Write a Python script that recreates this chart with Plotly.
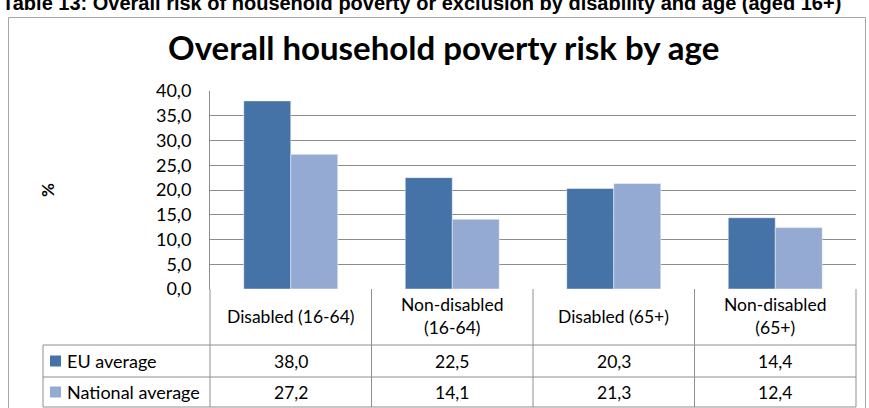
import plotly.graph_objects as go

# ---- data -------------------------------------------------------------
categories = ["Disabled (16-64)", "Non-disabled (16-64)", "Disabled (65+)", "Non-disabled (65+)"]
header_labels = ["Disabled (16-64)", "Non-disabled<br>(16-64)", "Disabled (65+)", "Non-disabled<br>(65+)"]
series_names = ["EU average", "National average"]
eu_average = [38.0, 22.5, 20.3, 14.4]
national_average = [27.2, 14.1, 21.3, 12.4]
y_ticks = [0, 5, 10, 15, 20, 25, 30, 35, 40]

caption = "Table 13: Overall risk of household poverty or exclusion by disability and age (aged 16+)"
title = "Overall household poverty risk by age"

# ---- styling ----------------------------------------------------------
W_PX, H_PX = 869, 408
PLOT_L, PLOT_R, PLOT_T, PLOT_B = 210, 856, 91, 289
FONT = "Lato"
TXT = 17.5
EU_COLOR = "#4572A7"
NAT_COLOR = "#95AAD3"
GRID = "#8C8C8C"
BORDER = "#8E8E8E"


def px(x):
    """pixel column -> paper x"""
    return (x - PLOT_L) / (PLOT_R - PLOT_L)


def py(y):
    """pixel row -> paper y"""
    return (PLOT_B - y) / (PLOT_B - PLOT_T)


def fmt(v):
    return f"{v:.1f}".replace(".", ",")


series_values = [eu_average, national_average]
series_colors = [EU_COLOR, NAT_COLOR]

fig = go.Figure()
for name, vals, col in zip(series_names, series_values, series_colors):
    fig.add_trace(go.Bar(
        x=categories, y=vals, name=name,
        marker=dict(color=col, line=dict(color="rgba(255,255,255,0.45)", width=1)),
        showlegend=False,
    ))

shapes = []
annotations = []

# outer chart frame
shapes.append(dict(type="rect", xref="paper", yref="paper",
                   x0=px(8.5), x1=px(865.5), y0=py(430), y1=py(17.5),
                   line=dict(color="#A6A6A6", width=1), layer="below"))

# data table grid
row_lines = [345, 377, 407]
col_lines = [PLOT_L, 371.5, 533, 694.5, PLOT_R]
legend_left = 43
for yl in row_lines:
    shapes.append(dict(type="line", xref="paper", yref="paper",
                       x0=px(legend_left), x1=px(PLOT_R), y0=py(yl), y1=py(yl),
                       line=dict(color=BORDER, width=1)))
for xl in col_lines:
    shapes.append(dict(type="line", xref="paper", yref="paper",
                       x0=px(xl), x1=px(xl), y0=py(PLOT_B), y1=py(407),
                       line=dict(color=BORDER, width=1)))
shapes.append(dict(type="line", xref="paper", yref="paper",
                   x0=px(legend_left), x1=px(legend_left), y0=py(345), y1=py(407),
                   line=dict(color=BORDER, width=1)))

# header cells
for cat, lab in zip(categories, header_labels):
    annotations.append(dict(x=cat, xref="x", y=py(316), yref="paper",
                            text=lab, showarrow=False, yanchor="middle",
                            font=dict(family=FONT, size=TXT, color="#000000")))

# value rows with legend keys
row_centers = [361, 392]
for name, vals, col, yc in zip(series_names, series_values, series_colors, row_centers):
    for cat, v in zip(categories, vals):
        annotations.append(dict(x=cat, xref="x", y=py(yc), yref="paper",
                                text=fmt(v), showarrow=False, yanchor="middle",
                                font=dict(family=FONT, size=TXT, color="#000000")))
    shapes.append(dict(type="rect", xref="paper", yref="paper",
                       x0=px(50), x1=px(61), y0=py(yc + 5.5), y1=py(yc - 5.5),
                       fillcolor=col, line=dict(width=0)))
    annotations.append(dict(x=px(65), xref="paper", y=py(yc), yref="paper",
                            text=name, showarrow=False, xanchor="left", yanchor="middle",
                            font=dict(family=FONT, size=TXT + 0.5, color="#000000")))

# chart title, axis title, caption
annotations.append(dict(x=px(443), xref="paper", y=py(47), yref="paper",
                        text=f"<b>{title}</b>", showarrow=False,
                        xanchor="center", yanchor="middle",
                        font=dict(family=FONT, size=33, color="#000000")))
annotations.append(dict(x=px(47), xref="paper", y=py(190), yref="paper",
                        text="<b>%</b>", showarrow=False, textangle=-90,
                        xanchor="center", yanchor="middle",
                        font=dict(family=FONT, size=17, color="#000000")))
annotations.append(dict(x=px(0), xref="paper", y=py(3), yref="paper",
                        text=f"<b>{caption}</b>", showarrow=False,
                        xanchor="left", yanchor="middle",
                        font=dict(family="Liberation Sans", size=20, color="#000000")))

fig.update_layout(
    width=W_PX, height=H_PX,
    margin=dict(l=PLOT_L, r=W_PX - PLOT_R, t=PLOT_T, b=H_PX - PLOT_B, pad=0),
    paper_bgcolor="white", plot_bgcolor="white",
    barmode="group", bargap=0.418, bargroupgap=0,
    separators=",.",
    shapes=shapes, annotations=annotations,
    xaxis=dict(range=[-0.5, 3.5], showticklabels=False, ticks="",
               showgrid=False, zeroline=False, showline=False, fixedrange=True),
    yaxis=dict(range=[0, 40], tickvals=y_ticks, tickformat=".1f",
               showgrid=True, gridcolor=GRID, gridwidth=1,
               zeroline=False, showline=True, linecolor=GRID, linewidth=1,
               ticks="", ticklabelstandoff=14,
               tickfont=dict(family=FONT, size=18, color="#000000")),
)

fig.write_html("out.html")
